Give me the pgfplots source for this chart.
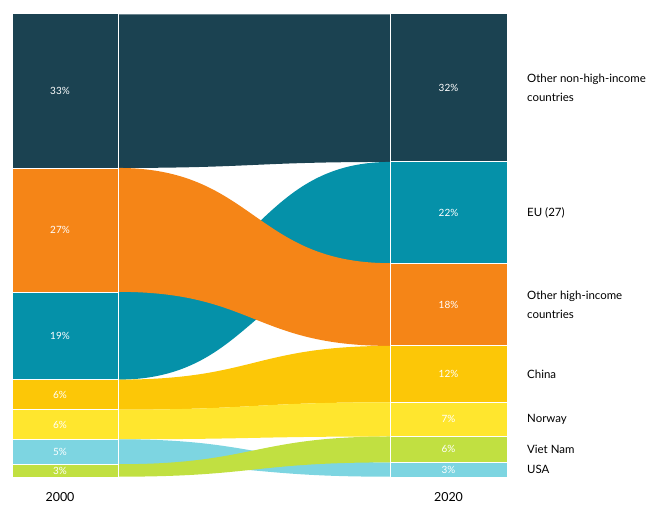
\documentclass[border=0pt]{standalone}
\usepackage{pgfplots}
\pgfplotsset{compat=1.18}
\usepackage{fontspec}
\setmainfont{Lato}
\definecolor{cONH}{HTML}{1B4251}
\definecolor{cOH}{HTML}{F58517}
\definecolor{cEU}{HTML}{0591A9}
\definecolor{cCN}{HTML}{FCC707}
\definecolor{cNO}{HTML}{FFE62E}
\definecolor{cUS}{HTML}{7DD5E1}
\definecolor{cVN}{HTML}{C1E041}
% #1 colour, #2/#3 bottom/top in 2000, #4/#5 bottom/top in 2020 (cumulative shares, %)
\newcommand\flow[5]{%
 \addplot[fill=#1,draw=none] coordinates {(13,#2) (118,#2) (118,#3) (13,#3)} -- cycle;
 \addplot[fill=#1,draw=none] coordinates {(390,#4) (507,#4) (507,#5) (390,#5)} -- cycle;
 \fill[#1] (axis cs:118,#2) .. controls (axis cs:254,#2) and (axis cs:254,#4) .. (axis cs:390,#4)
   -- (axis cs:390,#5) .. controls (axis cs:254,#5) and (axis cs:254,#3) .. (axis cs:118,#3) -- cycle;
}
\begin{document}
\begin{tikzpicture}
\begin{axis}[hide axis, clip=false, x=1bp, y=4.622bp,
  xmin=0, xmax=647, ymin=-6.123, ymax=103.137]
% shares: 2000 -> ONH 33.2, OH 26.8, EU 19.0, CN 6.5, NO 6.4, US 5.4, VN 2.7
%         2020 -> ONH 31.9, EU 21.9, OH 17.9, CN 12.2, NO 7.4, VN 5.6, US 3.1
\flow{cONH}{66.8}{100}{68.1}{100}
\flow{cEU}{21.0}{40.0}{46.2}{68.1}
\flow{cOH}{40.0}{66.8}{28.3}{46.2}
\flow{cCN}{14.5}{21.0}{16.1}{28.3}
\flow{cNO}{8.1}{14.5}{8.7}{16.1}
\flow{cUS}{2.7}{8.1}{0}{3.1}
\flow{cVN}{0}{2.7}{3.1}{8.7}
% separators
\draw[white, line width=1bp] (axis cs:118,0) -- (axis cs:118,100);
\draw[white, line width=1bp] (axis cs:390,0) -- (axis cs:390,100);
\pgfplotsinvokeforeach{68.1,46.2,28.3,16.1,8.7,3.1}{
  \draw[white, line width=0.9bp] (axis cs:390,#1) -- (axis cs:507,#1);}
\pgfplotsinvokeforeach{66.8,40.0,21.0,14.5,8.1,2.7}{
  \draw[white, line width=0.5bp] (axis cs:13,#1) -- (axis cs:118,#1);}
% percentage labels
\tikzset{pct/.style={text=white, font=\fontsize{10}{11}\selectfont, inner sep=0pt}}
\node[pct] at (axis cs:60,83.4) {33\%};
\node[pct] at (axis cs:60,53.4) {27\%};
\node[pct] at (axis cs:60,30.5) {19\%};
\node[pct] at (axis cs:60,17.75) {6\%};
\node[pct] at (axis cs:60,11.3) {6\%};
\node[pct] at (axis cs:60,5.4) {5\%};
\node[pct] at (axis cs:60,1.35) {3\%};
\node[pct] at (axis cs:448.5,84.05) {32\%};
\node[pct] at (axis cs:448.5,57.15) {22\%};
\node[pct] at (axis cs:448.5,37.25) {18\%};
\node[pct] at (axis cs:448.5,22.2) {12\%};
\node[pct] at (axis cs:448.5,12.4) {7\%};
\node[pct] at (axis cs:448.5,5.9) {6\%};
\node[pct] at (axis cs:448.5,1.55) {3\%};
% category labels
\tikzset{cat/.style={anchor=west, align=left, text=black, inner sep=0pt, font=\fontsize{11.5}{19}\selectfont}}
\node[cat] at (axis cs:527,84.05) {Other non-high-income\\countries};
\node[cat] at (axis cs:527,57.15) {EU (27)};
\node[cat] at (axis cs:527,37.25) {Other high-income\\countries};
\node[cat] at (axis cs:527,22.2) {China};
\node[cat] at (axis cs:527,12.4) {Norway};
\node[cat] at (axis cs:527,5.9) {Viet Nam};
\node[cat] at (axis cs:527,1.55) {USA};
% years
\node[font=\fontsize{12.5}{13}\selectfont, inner sep=0pt] at (axis cs:60,-4.4) {2000};
\node[font=\fontsize{12.5}{13}\selectfont, inner sep=0pt] at (axis cs:448.5,-4.4) {2020};
% bounding box
\path (axis cs:0,-6.123) rectangle (axis cs:647,103.137);
\end{axis}
\end{tikzpicture}
\end{document}
